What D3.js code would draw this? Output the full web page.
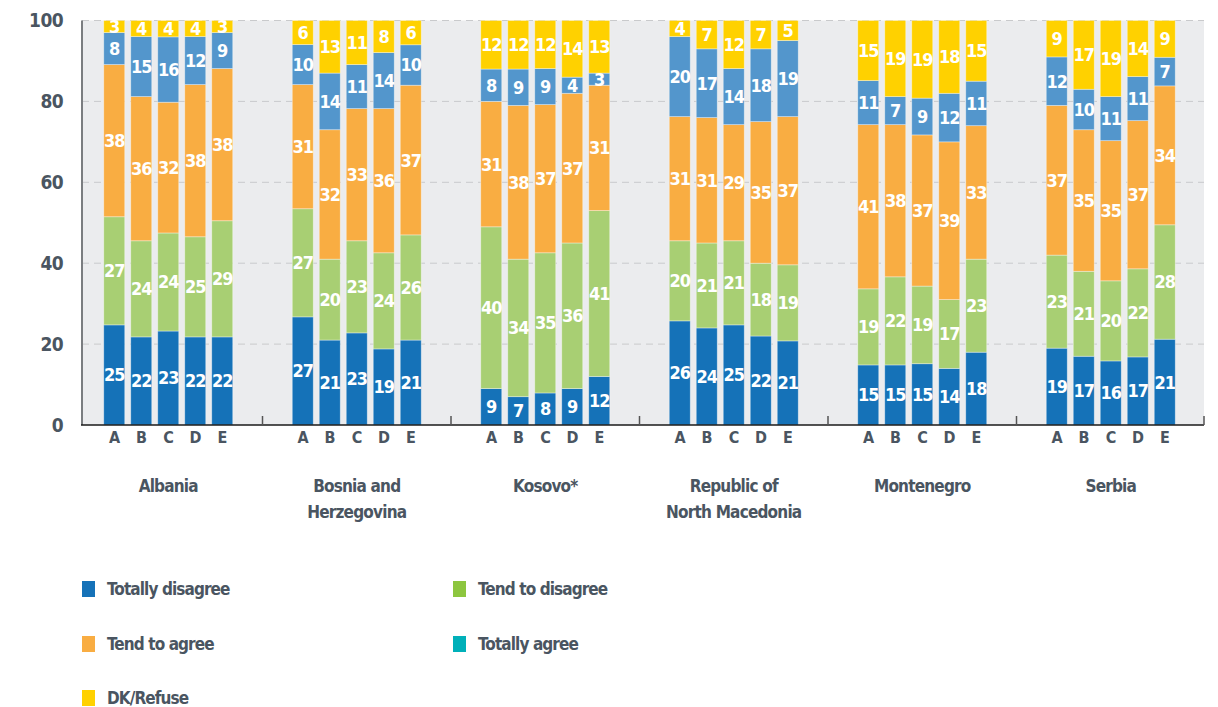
<!DOCTYPE html>
<html><head><meta charset="utf-8">
<script src="https://cdn.jsdelivr.net/npm/d3@7"></script>
<style>
body{margin:0;background:#fff;}
text{font-family:"DejaVu Sans Condensed","DejaVu Sans",sans-serif;font-stretch:condensed;font-weight:bold;letter-spacing:-0.6px;}
</style></head>
<body><svg id="c" width="1218" height="707"></svg>
<script>
const countries = ["Albania","Bosnia and|Herzegovina","Kosovo*","Republic of|North Macedonia","Montenegro","Serbia"];
const subCats = ["A","B","C","D","E"];
const seriesNames = ["Totally disagree","Tend to disagree","Tend to agree","Totally agree","DK/Refuse"];
const barColors = ["#1572b8","#a8cf73","#f9ad42","#5396cc","#ffd100"];
const legendColors = ["#1572b8","#8dc63f","#f9ad42","#00b0b9","#ffd100"];
const tickLabels = [0,20,40,60,80,100];
// values per country, per series (A..E)
const totallyDisagree = [[25,22,23,22,22],[27,21,23,19,21],[9,7,8,9,12],[26,24,25,22,21],[15,15,15,14,18],[19,17,16,17,21]];
const tendDisagree    = [[27,24,24,25,29],[27,20,23,24,26],[40,34,35,36,41],[20,21,21,18,19],[19,22,19,17,23],[23,21,20,22,28]];
const tendAgree       = [[38,36,32,38,38],[31,32,33,36,37],[31,38,37,37,31],[31,31,29,35,37],[41,38,37,39,33],[37,35,35,37,34]];
const totallyAgree    = [[8,15,16,12,9],[10,14,11,14,10],[8,9,9,4,3],[20,17,14,18,19],[11,7,9,12,11],[12,10,11,11,7]];
const dkRefuse        = [[3,4,4,4,3],[6,13,11,8,6],[12,12,12,14,13],[4,7,12,7,5],[15,19,19,18,15],[9,17,19,14,9]];

const seriesArrays = [totallyDisagree,tendDisagree,tendAgree,totallyAgree,dkRefuse];
const rows = [];
countries.forEach((c,ci)=>subCats.forEach((s,si)=>{
  const r={country:c,sub:s};
  seriesNames.forEach((n,k)=>r[n]=seriesArrays[k][ci][si]);
  rows.push(r);
}));

const svg = d3.select("#c");
const textCol = "#4a5561";
const plotL=82, plotR=1204, yTop=20.5, yBot=425;

const x0 = d3.scaleBand().domain(countries).range([74,1205]);
const x1 = d3.scaleBand().domain(subCats).range([0,129]).paddingInner(0.222).paddingOuter(0);
const y = d3.scaleLinear().domain([0,1]).range([yBot,yTop]);

// background
svg.append("rect").attr("x",plotL).attr("y",yTop).attr("width",plotR-plotL).attr("height",yBot-yTop).attr("fill","#ebecee");
// gridlines
svg.append("g").selectAll("line").data(tickLabels.filter(d=>d>0)).join("line")
  .attr("x1",plotL).attr("x2",plotR).attr("y1",d=>y(d/100)).attr("y2",d=>y(d/100))
  .attr("stroke","#c9cacc").attr("stroke-dasharray","7,5").attr("stroke-width",1);

const stack = d3.stack().keys(seriesNames).offset(d3.stackOffsetExpand);
const stacked = stack(rows);
const gx = c=> x0(c)+ (x0.bandwidth()-129)/2;

const layers = svg.append("g").selectAll("g").data(stacked).join("g")
  .attr("fill",(d,i)=>barColors[i]);
layers.selectAll("rect").data(d=>d).join("rect")
  .attr("x",d=>gx(d.data.country)+x1(d.data.sub))
  .attr("width",x1.bandwidth())
  .attr("y",d=>y(d[1])).attr("height",d=>y(d[0])-y(d[1]))
  .attr("stroke","rgba(255,255,255,0.45)").attr("stroke-width",0.8);

// value labels
const lab = svg.append("g");
stacked.forEach((layer,k)=>{
  lab.selectAll(null).data(layer).join("text")
    .attr("x",d=>gx(d.data.country)+x1(d.data.sub)+x1.bandwidth()/2)
    .attr("y",d=>(y(d[0])+y(d[1]))/2)
    .attr("dy","0.36em").attr("text-anchor","middle")
    .attr("fill","#fff").attr("font-size",18).style("letter-spacing","-1px")
    .text(d=>d.data[seriesNames[k]]);
});

// axes
svg.append("line").attr("x1",plotL).attr("x2",plotL).attr("y1",yTop).attr("y2",yBot).attr("stroke","#7a7d80").attr("stroke-width",2);
svg.append("line").attr("x1",plotL-1).attr("x2",plotR).attr("y1",yBot).attr("y2",yBot).attr("stroke","#1a1a1a").attr("stroke-width",1.5);
const bounds = countries.map(c=>x0(c)+x0.step()).slice(0,-1);
svg.append("g").selectAll("line").data(bounds.concat([plotR])).join("line")
  .attr("x1",d=>d).attr("x2",d=>d).attr("y1",yBot).attr("y2",yBot-9).attr("stroke","#555").attr("stroke-width",1.5);

const yAxis = d3.axisLeft(y).tickValues(tickLabels.map(v=>v/100)).tickFormat((d,i)=>tickLabels[i]).tickSize(0).tickPadding(19);
const ya = svg.append("g").attr("transform",`translate(${plotL},0)`).call(yAxis);
ya.select(".domain").remove();
ya.selectAll("text").attr("font-size",19).attr("fill",textCol).attr("font-family",null);

// sub labels
svg.append("g").selectAll("text").data(rows).join("text")
  .attr("x",d=>gx(d.country)+x1(d.sub)+x1.bandwidth()/2)
  .attr("y",443).attr("text-anchor","middle").attr("font-size",16).attr("fill",textCol)
  .text(d=>d.sub);

// country labels
const cl = svg.append("g").selectAll("text").data(countries).join("text")
  .attr("x",d=>gx(d)+64.5).attr("y",492).attr("text-anchor","middle").attr("font-size",17).attr("fill",textCol)
  .style("letter-spacing","-0.8px");
cl.each(function(d){
  const parts=d.split("|");
  d3.select(this).selectAll("tspan").data(parts).join("tspan")
    .attr("x",gx(d)+64.5).attr("dy",(p,i)=>i?26:0).text(p=>p);
});

// legend
const legPos = [[82,589],[453,589],[82,644],[453,644],[82,698]];
const lg = svg.append("g").selectAll("g").data(seriesNames).join("g")
  .attr("transform",(d,i)=>`translate(${legPos[i][0]},${legPos[i][1]})`);
lg.append("rect").attr("x",0).attr("y",-8).attr("width",13).attr("height",16).attr("fill",(d,i)=>legendColors[i]);
lg.append("text").attr("x",25).attr("y",0).attr("dy","0.33em").attr("font-size",17).attr("fill",textCol)
  .style("letter-spacing","-0.9px").text(d=>d);
</script></body></html>
